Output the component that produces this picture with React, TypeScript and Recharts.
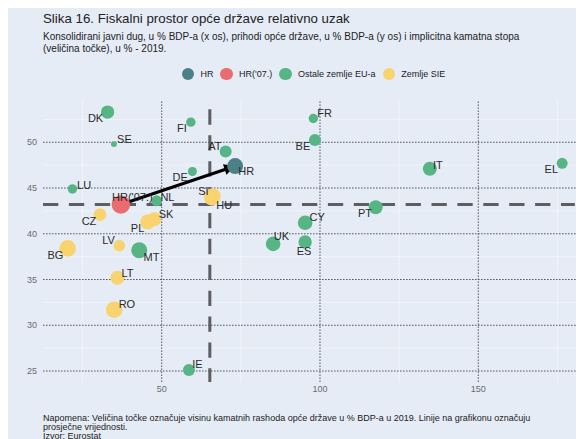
import React from "react";
import {
  ScatterChart,
  Scatter,
  XAxis,
  YAxis,
  ZAxis,
  ReferenceLine,
} from "recharts";

// ---- data ----
const codes = ["HR", "HR('07.)", "DK", "SE", "FI", "AT", "DE", "LU", "NL", "BE", "FR", "IE", "IT", "PT", "EL", "ES", "CY", "MT", "UK", "SI", "HU", "CZ", "PL", "SK", "LV", "BG", "LT", "RO"];
const debt = [73.2, 37.1, 32.9, 34.9, 59.2, 70.2, 59.7, 21.8, 48.4, 98.4, 97.9, 58.6, 134.7, 117.6, 176.5, 95.3, 95.3, 42.9, 85.2, 66.1, 65.9, 30.5, 45.6, 47.7, 36.6, 20.3, 36.0, 35.0];
const revenue = [47.4, 43.2, 53.3, 49.8, 52.2, 49.0, 46.8, 44.9, 43.6, 50.25, 52.6, 25.1, 47.1, 42.9, 47.7, 39.1, 41.2, 38.2, 38.9, 44.1, 43.95, 42.1, 41.3, 41.6, 38.7, 38.4, 35.2, 31.7];
const pointSize = [4.0, 5.4, 2.8, 0.55, 1.38, 2.25, 1.27, 1.38, 1.89, 2.25, 1.38, 2.25, 3.06, 3.06, 1.89, 2.8, 3.33, 4.0, 3.33, 4.0, 4.0, 2.5, 3.5, 3.06, 2.1, 4.3, 3.06, 4.3];
const groups = ["hr", "hr07", "eu", "eu", "eu", "eu", "eu", "eu", "eu", "eu", "eu", "eu", "eu", "eu", "eu", "eu", "eu", "eu", "eu", "sie", "sie", "sie", "sie", "sie", "sie", "sie", "sie", "sie"];

const seriesKeys = ["hr", "hr07", "eu", "sie"];
const seriesNames = ["HR", "HR('07.)", "Ostale zemlje EU-a", "Zemlje SIE"];

const avgDebt = 65.2;
const avgRevenue = 43.2;

const xTicks = [50, 100, 150];
const yTicks = [25, 30, 35, 40, 45, 50];
const xMinor = [25, 75, 125, 175];
const yMinor = [27.5, 32.5, 37.5, 42.5, 47.5, 52.5];

// ---- styles ----
const seriesColors: Record<string, string> = {
  hr: "#4b8087",
  hr07: "#e96c71",
  eu: "#57b585",
  sie: "#f8d36e",
};
const BG = "#e5ecf6";
const FONT = "'Liberation Sans', Arial, sans-serif";
const GRID_STROKE = "#5a5a62";
const GRID_DASH = "1.6 1.4";

// label centre offsets (px) from the point centre
const labelOffsets: Record<string, [number, number]> = {
  HR: [11, 5.3],
  "HR('07.)": [11.5, -7.6],
  DK: [-12, 6],
  SE: [10.5, -5],
  FI: [-9, 5.4],
  AT: [-10.7, -5.7],
  DE: [-12.3, 5.6],
  LU: [11.7, -4.3],
  NL: [10.8, -3.7],
  BE: [-12, 6],
  FR: [11.2, -5.4],
  IE: [8.5, -5.7],
  IT: [8, -3.4],
  PT: [-10.7, 5.7],
  EL: [-10.8, 5.7],
  ES: [-1, 8.6],
  CY: [12, -5.7],
  MT: [12.2, 6.7],
  UK: [8.2, -8],
  SI: [-9.3, -5.7],
  HU: [12.2, 7.6],
  CZ: [-11, 6.7],
  PL: [-10.2, 6],
  SK: [11.7, -5.3],
  LV: [-10.8, -5.7],
  BG: [-12.2, 6.7],
  LT: [10.2, -5],
  RO: [12.7, -5.7],
};

const allPoints = codes.map((code, i) => ({
  code,
  x: debt[i],
  y: revenue[i],
  z: pointSize[i],
  group: groups[i],
}));

const seriesData = seriesKeys.map((k) => allPoints.filter((p) => p.group === k));

const hrIdx = codes.indexOf("HR");
const hr07Idx = codes.indexOf("HR('07.)");

const Arrow = (props: any) => {
  const { x1, y1, x2, y2 } = props;
  const dx = x2 - x1;
  const dy = y2 - y1;
  const len = Math.hypot(dx, dy) || 1;
  const ux = dx / len;
  const uy = dy / len;
  const head = 11;
  const half = 5.5;
  const bx = x2 - ux * head;
  const by = y2 - uy * head;
  return (
    <g>
      <line x1={x1} y1={y1} x2={bx + ux * 1} y2={by + uy * 1} stroke="#000" strokeWidth={3} />
      <polygon
        points={`${x2},${y2} ${bx - uy * half},${by + ux * half} ${bx + uy * half},${by - ux * half}`}
        fill="#000"
      />
    </g>
  );
};

const LabelShape = (props: any) => {
  const { cx, cy, payload } = props;
  const off = labelOffsets[payload.code] || [10, -5];
  return (
    <text
      x={cx + off[0]}
      y={cy + off[1]}
      textAnchor="middle"
      dominantBaseline="central"
      fontSize={11}
      fontFamily={FONT}
      fill="#2a2a2a"
    >
      {payload.code}
    </text>
  );
};

const W = 576;
const H = 431;

export default function App() {
  return (
    <div
      style={{
        position: "relative",
        width: W,
        height: H,
        background: BG,
        fontFamily: FONT,
        overflow: "hidden",
      }}
    >
      <div
        style={{
          position: "absolute",
          left: 35,
          top: 3,
          fontSize: 13.3,
          lineHeight: "16px",
          color: "#222",
          whiteSpace: "nowrap",
        }}
      >
        Slika 16. Fiskalni prostor opće države relativno uzak
      </div>
      <div
        style={{
          position: "absolute",
          left: 35,
          top: 22.5,
          fontSize: 10,
          lineHeight: "12.5px",
          color: "#222",
          whiteSpace: "nowrap",
        }}
      >
        <div>Konsolidirani javni dug, u % BDP-a (x os), prihodi opće države, u % BDP-a (y os) i implicitna kamatna stopa</div>
        <div>(veličina točke), u % - 2019.</div>
      </div>
      <div
        style={{
          position: "absolute",
          left: 35,
          width: W - 35,
          top: 59,
          height: 14,
          display: "flex",
          justifyContent: "center",
          alignItems: "center",
          fontSize: 9,
          color: "#222",
        }}
      >
        {seriesKeys.map((k, i) => (
          <div key={k} style={{ display: "flex", alignItems: "center", marginRight: i < seriesKeys.length - 1 ? 7 : 0 }}>
            <span
              style={{
                display: "inline-block",
                width: 12.7,
                height: 12.7,
                borderRadius: "50%",
                background: seriesColors[k],
                marginRight: 6,
              }}
            />
            <span style={{ whiteSpace: "nowrap" }}>{seriesNames[i]}</span>
          </div>
        ))}
      </div>

      <div style={{ position: "absolute", left: 0, top: 0 }}>
        <ScatterChart width={W} height={H} margin={{ top: 92, right: 0, bottom: 37, left: 0 }}>
          {xMinor.map((v) => (
            <ReferenceLine key={"xm" + v} x={v} stroke="#ffffff" strokeOpacity={0.45} strokeWidth={1} />
          ))}
          {yMinor.map((v) => (
            <ReferenceLine key={"ym" + v} y={v} stroke="#ffffff" strokeOpacity={0.45} strokeWidth={1} />
          ))}
          {xTicks.map((v) => (
            <ReferenceLine key={"xg" + v} x={v} stroke={GRID_STROKE} strokeDasharray={GRID_DASH} strokeWidth={1} />
          ))}
          {yTicks.map((v) => (
            <ReferenceLine key={"yg" + v} y={v} stroke={GRID_STROKE} strokeDasharray={GRID_DASH} strokeWidth={1} />
          ))}
          <XAxis
            type="number"
            dataKey="x"
            domain={[12.5, 183.4]}
            ticks={xTicks}
            allowDataOverflow
            axisLine={false}
            tickLine={false}
            tickSize={0}
            tickMargin={4}
            height={20}
            tick={{ fontSize: 9, fill: "#6b6b6b", fontFamily: FONT }}
          />
          <YAxis
            type="number"
            dataKey="y"
            domain={[23.8, 54.62]}
            ticks={yTicks}
            allowDataOverflow
            axisLine={false}
            tickLine={false}
            tickSize={0}
            tickMargin={6}
            width={35}
            tick={{ fontSize: 9, fill: "#6b6b6b", fontFamily: FONT }}
          />
          <ZAxis type="number" dataKey="z" domain={[0, 6]} range={[0, Math.PI * 96]} />
          <ReferenceLine
            segment={[
              { x: 12.5, y: avgRevenue },
              { x: 180.5, y: avgRevenue },
            ]}
            stroke="#5d5e64"
            strokeWidth={3}
            strokeDasharray="15.3 10.6"
          />
          <ReferenceLine
            segment={[
              { x: avgDebt, y: 53.6 },
              { x: avgDebt, y: 23.8 },
            ]}
            stroke="#5d5e64"
            strokeWidth={3}
            strokeDasharray="15.3 10.6"
          />
          {seriesKeys.map((k, i) => (
            <Scatter
              key={k}
              name={seriesNames[i]}
              data={seriesData[i]}
              fill={seriesColors[k]}
              isAnimationActive={false}
            />
          ))}
          <ReferenceLine
            segment={[
              { x: debt[hr07Idx], y: revenue[hr07Idx] },
              { x: debt[hrIdx], y: revenue[hrIdx] },
            ]}
            shape={Arrow}
          />
          <Scatter
            name="labels"
            data={allPoints}
            legendType="none"
            shape={LabelShape}
            isAnimationActive={false}
          />
        </ScatterChart>
      </div>

      <div
        style={{
          position: "absolute",
          left: 35,
          top: 405.5,
          fontSize: 9,
          lineHeight: "9px",
          color: "#222",
          whiteSpace: "nowrap",
        }}
      >
        <div>Napomena: Veličina točke označuje visinu kamatnih rashoda opće države u % BDP-a u 2019. Linije na grafikonu označuju</div>
        <div>prosječne vrijednosti.</div>
        <div>Izvor: Eurostat</div>
      </div>
    </div>
  );
}
